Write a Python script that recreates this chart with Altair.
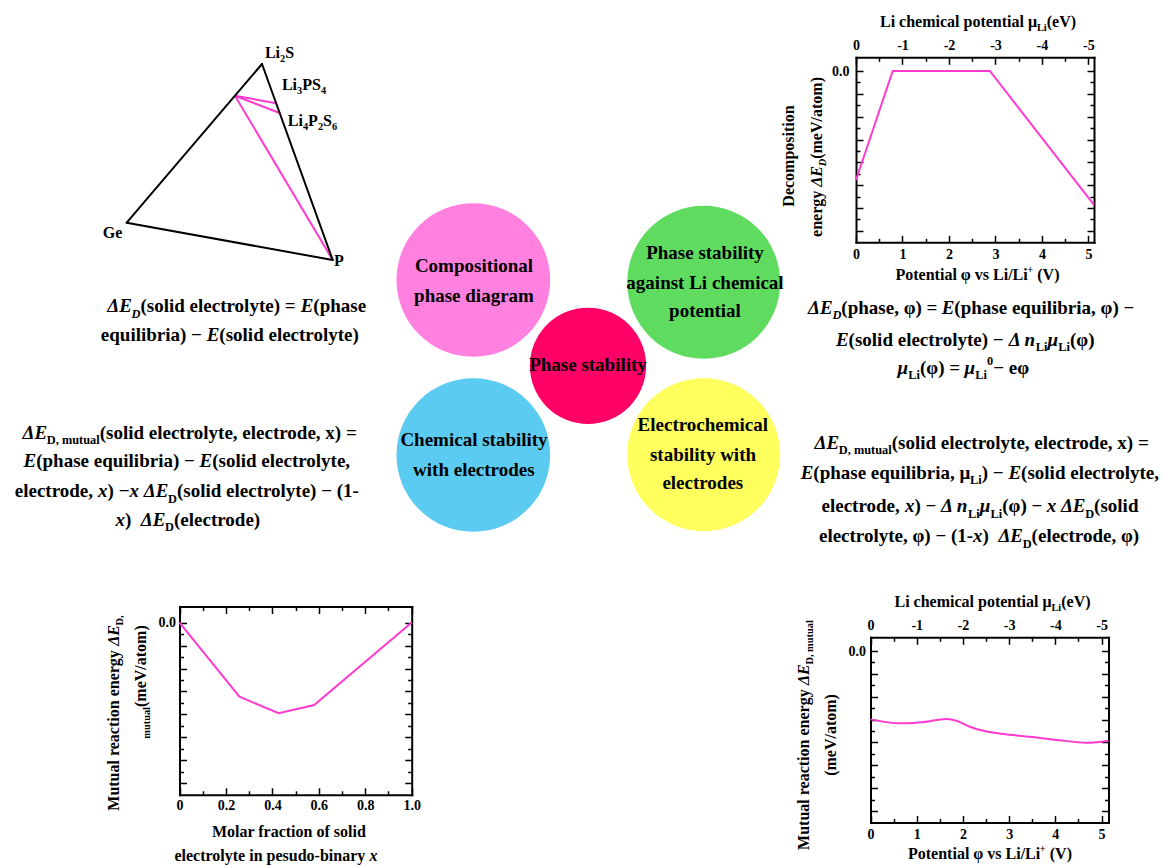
import math
import altair as alt
import pandas as pd

W, H = 1162, 866
SERIF = "Liberation Serif"
MAGENTA = "#FF3ACF"

# ---------------- data ----------------
# decomposition energy of the electrolyte vs. potential (top right)
TR_PHI = [0.0, 0.79, 2.88, 5.12]
TR_ED = [-4.77, 0.0, 0.0, -5.86]

# mutual reaction energy vs. molar fraction of electrolyte (bottom left)
BL_X = [0.0, 0.258, 0.427, 0.58, 1.0]
BL_ED = [0.0, -3.23, -3.95, -3.59, 0.0]

# mutual reaction energy vs. potential (bottom right)
BR_PHI = [0.0, 0.57, 1.07, 1.65, 1.86, 2.15, 2.44, 2.87, 3.45, 4.03, 4.68, 5.15]
BR_ED = [-2.99, -3.16, -3.12, -2.97, -3.05, -3.31, -3.49, -3.63, -3.75, -3.89, -4.01, -3.92]

POT_MAJOR = [0, 1, 2, 3, 4, 5]
POT_MINOR = [0.5, 1.5, 2.5, 3.5, 4.5]
FRAC_MAJOR = [0, 0.2, 0.4, 0.6, 0.8, 1.0]
FRAC_MINOR = [0.1, 0.3, 0.5, 0.7, 0.9]
E_MAJOR = [0, -1, -2, -3, -4, -5, -6, -7]
E_MINOR = [-0.5, -1.5, -2.5, -3.5, -4.5, -5.5, -6.5]

# ternary diagram: corners and points as (Ge, Li2S, P) fractions
TRI_NAMES = ["Ge", "Li2S", "P", "tie", "Li3PS4", "Li4P2S6"]
TRI_GE = [1.0, 0.0, 0.0, 0.2, 0.0, 0.0]
TRI_LI2S = [0.0, 1.0, 0.0, 0.8, 0.8, 0.75]
TRI_P = [0.0, 0.0, 1.0, 0.0, 0.2, 0.25]
TRI_EDGES = [("Ge", "Li2S"), ("Li2S", "P"), ("P", "Ge")]
TRI_TIES = [("tie", "Li3PS4"), ("tie", "Li4P2S6"), ("tie", "P")]

# concept circles
CIRCLE_NAMES = ["composition", "chemical potential", "chemical", "electrochemical", "phase stability"]
CIRCLE_COLORS = ["#FF80DE", "#5FDC5F", "#5CCBF2", "#FFFF5E", "#FF0066"]

# ---------------- layout ----------------
CANVAS_X = alt.Scale(domain=[0, W], range=[0, W])
CANVAS_Y = alt.Scale(domain=[0, H], range=[0, H])

TRI_CORNERS = {"Ge": (126.7, 222.7), "Li2S": (262.0, 64.0), "P": (332.7, 260.0)}
CIRCLE_CX = [473.3, 703.7, 473.3, 703.7, 588.0]
CIRCLE_CY = [280.0, 282.3, 455.0, 454.7, 365.8]
CIRCLE_R = [86.7, 86.3, 86.7, 86.3, 65.6]

# Times-style bold advance widths (1/1000 em)
W_BOLD = {}
for chars, w in [("0123456789", 500), (" ", 250), ("()", 333), (",.", 250), ("-", 333),
                 ("/", 278), ("=+\u2212", 570), ("ACDNRUVXY", 722), ("BEPT", 667), ("F", 611),
                 ("GHKOQ", 778), ("I", 389), ("J", 500), ("L", 667), ("M", 944), ("S", 556),
                 ("W", 1000), ("Z", 667), ("agovxy", 500), ("bdhknpqu", 556), ("ceru", 444),
                 ("fjt", 333), ("il", 278), ("m", 833), ("s", 389), ("w", 722), ("z", 444),
                 ("\u0394", 612), ("\u03bc", 556), ("\u03c6", 600)]:
    for c in chars:
        W_BOLD[c] = w
W_BOLD["P"] = 611
W_BOLD["u"] = 556
W_ITAL = dict(W_BOLD)
W_ITAL.update({"\u03bc": 576, "n": 556, "x": 500, "E": 667, "D": 722})
SMALL = 0.65


def seg_width(t, st, fs):
    table = W_ITAL if st in ("i", "si") else W_BOLD
    size = fs * SMALL if st in ("s", "si", "p") else fs
    return sum(table.get(c, 500) for c in t) / 1000.0 * size


def text_rows(segments, x, y, fs, angle=0):
    """Lay a line of styled segments centred on x (or y when rotated)."""
    widths = [seg_width(t, st, fs) for t, st in segments]
    pos = -sum(widths) / 2.0
    rows = []
    for (t, st), w in zip(segments, widths):
        small = st in ("s", "si", "p")
        size = fs * SMALL if small else fs
        shift = {"s": 0.28, "si": 0.28, "p": -0.45}.get(st, 0.0) * fs
        stripped = t.lstrip(" ")
        lead = (len(t) - len(stripped)) * 0.25 * size
        if stripped.strip():
            p = pos + lead
            if angle == 0:
                px, py = x + p, y + shift
            else:
                px, py = x + shift, y - p
            rows.append(dict(x=px, y=py, text=stripped, size=size,
                             italic=st in ("i", "si"), angle=angle))
        pos += w
    return rows


D = "\u0394"
MU = "\u03bc"
PHI = "\u03c6"
MINUS = "\u2212"

EQ = 19
CIRC = 19
TITLE = 16
LINES = [
    # left equations
    ([(D + "E", "i"), ("D", "si"), ("(solid electrolyte) = ", "n"), ("E", "i"), ("(phase", "n")], 236.7, 312.4, EQ, 0),
    ([("equilibria) " + MINUS + " ", "n"), ("E", "i"), ("(solid electrolyte)", "n")], 230.0, 340.7, EQ, 0),
    ([(D + "E", "i"), ("D, mutual", "s"), ("(solid electrolyte, electrode, x) =", "n")], 190.0, 438.7, EQ, 0),
    ([("E", "i"), ("(phase equilibria) " + MINUS + " ", "n"), ("E", "i"), ("(solid electrolyte,", "n")], 187.0, 467.4, EQ, 0),
    ([("electrode, ", "n"), ("x", "i"), (") " + MINUS, "n"), ("x ", "i"), (D + "E", "i"), ("D", "s"),
      ("(solid electrolyte) " + MINUS + " (1-", "n")], 187.0, 497.4, EQ, 0),
    ([("x", "i"), (") ", "n"), (" " + D + "E", "i"), ("D", "s"), ("(electrode)", "n")], 188.0, 525.7, EQ, 0),
    # right equations
    ([(D + "E", "i"), ("D", "si"), ("(phase, " + PHI + ") = ", "n"), ("E", "i"),
      ("(phase equilibria, " + PHI + ") " + MINUS, "n")], 971.0, 314.0, EQ, 0),
    ([("E", "i"), ("(solid electrolyte) " + MINUS + " ", "n"), (D + " n", "i"), ("Li", "s"), (MU, "i"), ("Li", "s"),
      ("(" + PHI + ")", "n")], 965.0, 345.7, EQ, 0),
    ([(MU, "i"), ("Li", "s"), ("(" + PHI + ") = ", "n"), (MU, "i"), ("Li", "s"), ("0", "p"), (MINUS + " e" + PHI, "n")],
     963.0, 374.0, EQ, 0),
    ([(D + "E", "i"), ("D, mutual", "s"), ("(solid electrolyte, electrode, x) =", "n")], 982.0, 449.0, EQ, 0),
    ([("E", "i"), ("(phase equilibria, " + MU, "n"), ("Li", "s"), (") " + MINUS + " ", "n"), ("E", "i"),
      ("(solid electrolyte,", "n")], 980.0, 479.0, EQ, 0),
    ([("electrode, ", "n"), ("x", "i"), (") " + MINUS + " ", "n"), (D + " n", "i"), ("Li", "s"), (MU, "i"), ("Li", "s"),
      ("(" + PHI + ") " + MINUS + " ", "n"), ("x " + D + "E", "i"), ("D", "s"), ("(solid", "n")], 980.0, 512.4, EQ, 0),
    ([("electrolyte, " + PHI + ") " + MINUS + " (1-", "n"), ("x", "i"), (") ", "n"), (" " + D + "E", "i"), ("D", "s"),
      ("(electrode, " + PHI + ")", "n")], 979.0, 542.4, EQ, 0),
    # circle captions
    ([("Compositional", "n")], 474.0, 272.4, CIRC, 0),
    ([("phase diagram", "n")], 474.0, 302.4, CIRC, 0),
    ([("Phase stability", "n")], 705.0, 258.7, CIRC, 0),
    ([("against Li chemical", "n")], 705.0, 288.7, CIRC, 0),
    ([("potential", "n")], 705.0, 317.4, CIRC, 0),
    ([("Phase stability", "n")], 588.0, 370.7, CIRC, 0),
    ([("Chemical stability", "n")], 474.0, 445.7, CIRC, 0),
    ([("with electrodes", "n")], 474.0, 475.7, CIRC, 0),
    ([("Electrochemical", "n")], 703.0, 430.7, CIRC, 0),
    ([("stability with", "n")], 703.0, 460.7, CIRC, 0),
    ([("electrodes", "n")], 703.0, 489.0, CIRC, 0),
    # ternary labels
    ([("Li", "n"), ("2", "s"), ("S", "n")], 279.5, 58.0, TITLE, 0),
    ([("Li", "n"), ("3", "s"), ("PS", "n"), ("4", "s")], 304.0, 90.0, TITLE, 0),
    ([("Li", "n"), ("4", "s"), ("P", "n"), ("2", "s"), ("S", "n"), ("6", "s")], 312.5, 126.0, TITLE, 0),
    ([("Ge", "n")], 112.5, 238.0, TITLE, 0),
    ([("P", "n")], 339.0, 266.0, TITLE, 0),
    # axis titles, top right panel
    ([("Li chemical potential " + MU, "n"), ("Li", "s"), ("(eV)", "n")], 978.0, 26.5, TITLE, 0),
    ([("Potential " + PHI + " vs Li/Li", "n"), ("+", "p"), (" (V)", "n")], 977.5, 279.8, TITLE, 0),
    ([("Decomposition", "n")], 794.0, 156.0, TITLE, 270),
    ([("energy ", "n"), (D + "E", "i"), ("D", "si"), ("(meV/atom)", "n")], 822.0, 157.0, TITLE, 270),
    # axis titles, bottom left panel
    ([("Molar fraction of solid", "n")], 289.0, 836.5, TITLE, 0),
    ([("electrolyte in pesudo-binary ", "n"), ("x", "i")], 276.0, 861.0, TITLE, 0),
    ([("Mutual reaction energy ", "n"), (D + "E", "i"), ("D,", "s")], 119.0, 713.0, TITLE, 270),
    ([("mutual", "s"), ("(meV/atom)", "n")], 146.0, 682.0, TITLE, 270),
    # axis titles, bottom right panel
    ([("Li chemical potential " + MU, "n"), ("Li", "s"), ("(eV)", "n")], 992.5, 606.5, TITLE, 0),
    ([("Potential " + PHI + " vs Li/Li", "n"), ("+", "p"), (" (V)", "n")], 990.0, 859.0, TITLE, 0),
    ([("Mutual reaction energy ", "n"), (D + "E", "i"), ("D, mutual", "s")], 809.0, 735.0, TITLE, 270),
    ([("(meV/atom)", "n")], 836.0, 735.0, TITLE, 270),
]

# ---------------- canvas layers ----------------
layers = []

# circles
circles = pd.DataFrame({"name": CIRCLE_NAMES, "color": CIRCLE_COLORS,
                        "cx": CIRCLE_CX, "cy": CIRCLE_CY, "r": CIRCLE_R})
circles["area"] = math.pi * circles["r"] ** 2
layers.append(
    alt.Chart(circles).mark_point(shape="circle", filled=True, opacity=1, strokeWidth=0).encode(
        x=alt.X("cx:Q", scale=CANVAS_X, axis=None),
        y=alt.Y("cy:Q", scale=CANVAS_Y, axis=None),
        size=alt.Size("area:Q", scale=None),
        color=alt.Color("color:N", scale=None),
        order=alt.Order("r:Q", sort="descending"),
    )
)

# ternary diagram
tri = pd.DataFrame({"name": TRI_NAMES, "ge": TRI_GE, "li2s": TRI_LI2S, "p": TRI_P})
tri["x"] = sum(tri[k] * TRI_CORNERS[c][0] for k, c in [("ge", "Ge"), ("li2s", "Li2S"), ("p", "P")])
tri["y"] = sum(tri[k] * TRI_CORNERS[c][1] for k, c in [("ge", "Ge"), ("li2s", "Li2S"), ("p", "P")])
pos = tri.set_index("name")[["x", "y"]]


def segments(pairs, kind):
    return pd.DataFrame([{"x": pos.loc[a, "x"], "y": pos.loc[a, "y"],
                          "x2": pos.loc[b, "x"], "y2": pos.loc[b, "y"], "kind": kind}
                         for a, b in pairs])


for df, color in [(segments(TRI_TIES, "tie line"), MAGENTA), (segments(TRI_EDGES, "edge"), "black")]:
    layers.append(
        alt.Chart(df).mark_rule(color=color, strokeWidth=2, strokeCap="round").encode(
            x=alt.X("x:Q", scale=CANVAS_X, axis=None),
            y=alt.Y("y:Q", scale=CANVAS_Y, axis=None),
            x2="x2:Q", y2="y2:Q",
        )
    )

# text
rows = []
for segs, x, y, fs, ang in LINES:
    rows += text_rows(segs, x, y, fs, ang)
texts = pd.DataFrame(rows)
for italic in (False, True):
    for ang in (0, 270):
        sub = texts[(texts["italic"] == italic) & (texts["angle"] == ang)]
        if sub.empty:
            continue
        layers.append(
            alt.Chart(sub).mark_text(
                align="left", baseline="alphabetic", font=SERIF, fontWeight="bold",
                fontStyle="italic" if italic else "normal", color="black", angle=ang,
            ).encode(
                x=alt.X("x:Q", scale=CANVAS_X, axis=None),
                y=alt.Y("y:Q", scale=CANVAS_Y, axis=None),
                text="text:N",
                size=alt.Size("size:Q", scale=None),
            )
        )


# ---------------- framed panels ----------------
def ax(orient, at, values=None, labels=False, domain=False, tick=0, fmt=None, expr=None, pad=4):
    if orient == "bottom":
        off = at - H
    elif orient == "top":
        off = -at
    elif orient == "left":
        off = -at
    else:
        off = at - W
    kw = dict(orient=orient, offset=off, title=None, grid=False, domain=domain,
              domainColor="black", domainWidth=2, domainCap="square",
              labels=labels, ticks=tick > 0, tickSize=tick, tickColor="black", tickWidth=1.5,
              labelFont=SERIF, labelFontWeight="bold", labelFontSize=14, labelColor="black",
              labelPadding=pad, labelFlush=False, labelOverlap=False)
    if values is not None:
        kw["values"] = values
    if fmt:
        kw["format"] = fmt
    if expr:
        kw["labelExpr"] = expr
    return alt.Axis(**kw)


def panel(df, xf, yf, xdom, xr, ydom, yr, xmaj, xmin, bottom_kw, top_expr, ypad, interp):
    xs = alt.Scale(domain=xdom, range=xr, nice=False, zero=False)
    ys = alt.Scale(domain=ydom, range=yr, nice=False, zero=False)
    left, right = xr
    bottom, top = yr
    out = []
    out.append(alt.Chart(df).mark_line(color=MAGENTA, strokeWidth=2, interpolate=interp).encode(
        x=alt.X(f"{xf}:Q", scale=xs, axis=ax("bottom", bottom, values=xmaj, labels=True, domain=True, **bottom_kw)),
        y=alt.Y(f"{yf}:Q", scale=ys, axis=ax("left", left, values=[0], labels=True, domain=True, fmt=".1f", pad=ypad)),
    ))
    top_ax = ax("top", top, values=xmaj, labels=top_expr is not None, domain=True,
                expr=top_expr, pad=5) if top_expr else ax("top", top, values=xmaj, domain=True)
    out.append(alt.Chart(df).mark_point(opacity=0).encode(
        x=alt.X(f"{xf}:Q", scale=xs, axis=top_ax),
        y=alt.Y(f"{yf}:Q", scale=ys, axis=ax("right", right, values=E_MAJOR, domain=True)),
    ))
    for vals_x, vals_y, size in [(xmaj, E_MAJOR, 7), (xmin, E_MINOR, 4)]:
        # inward ticks on bottom and left edges
        out.append(alt.Chart(df).mark_point(opacity=0).encode(
            x=alt.X(f"{xf}:Q", scale=xs, axis=ax("top", bottom, values=vals_x, tick=size)),
            y=alt.Y(f"{yf}:Q", scale=ys, axis=ax("right", left, values=vals_y, tick=size)),
        ))
        # inward ticks on top and right edges
        out.append(alt.Chart(df).mark_point(opacity=0).encode(
            x=alt.X(f"{xf}:Q", scale=xs, axis=ax("bottom", top, values=vals_x, tick=size)),
            y=alt.Y(f"{yf}:Q", scale=ys, axis=ax("left", right, values=vals_y, tick=size)),
        ))
    return out


MU_LABELS = "datum.value == 0 ? '0' : '-' + datum.value"

layers += panel(pd.DataFrame({"phi": TR_PHI, "ed": TR_ED}), "phi", "ed",
                [0, 5.12], [856.0, 1094.0], [-7.5, 0.6], [242.3, 57.3],
                POT_MAJOR, POT_MINOR, dict(fmt="d", pad=5), MU_LABELS, 7, "linear")
layers += panel(pd.DataFrame({"x": BL_X, "ed": BL_ED}), "x", "ed",
                [0, 1.0], [179.5, 411.7], [-7.5, 0.7], [794.8, 606.5],
                FRAC_MAJOR, FRAC_MINOR,
                dict(expr="datum.value == 0 ? '0' : format(datum.value, '.1f')", pad=4), None, 4, "linear")
layers += panel(pd.DataFrame({"phi": BR_PHI, "ed": BR_ED}), "phi", "ed",
                [0, 5.15], [870.5, 1108.5], [-7.5, 0.6], [822.5, 637.3],
                POT_MAJOR, POT_MINOR, dict(fmt="d", pad=5), MU_LABELS, 5, "catmull-rom")

chart = (
    alt.layer(*layers)
    .resolve_scale(x="independent", y="independent", size="independent", color="independent")
    .resolve_axis(x="independent", y="independent")
    .properties(width=W, height=H, padding=0, autosize=alt.AutoSizeParams(type="none"), background="white")
    .configure_view(stroke=None)
)

chart.save("out.html", embed_options={"renderer": "svg", "actions": False})
